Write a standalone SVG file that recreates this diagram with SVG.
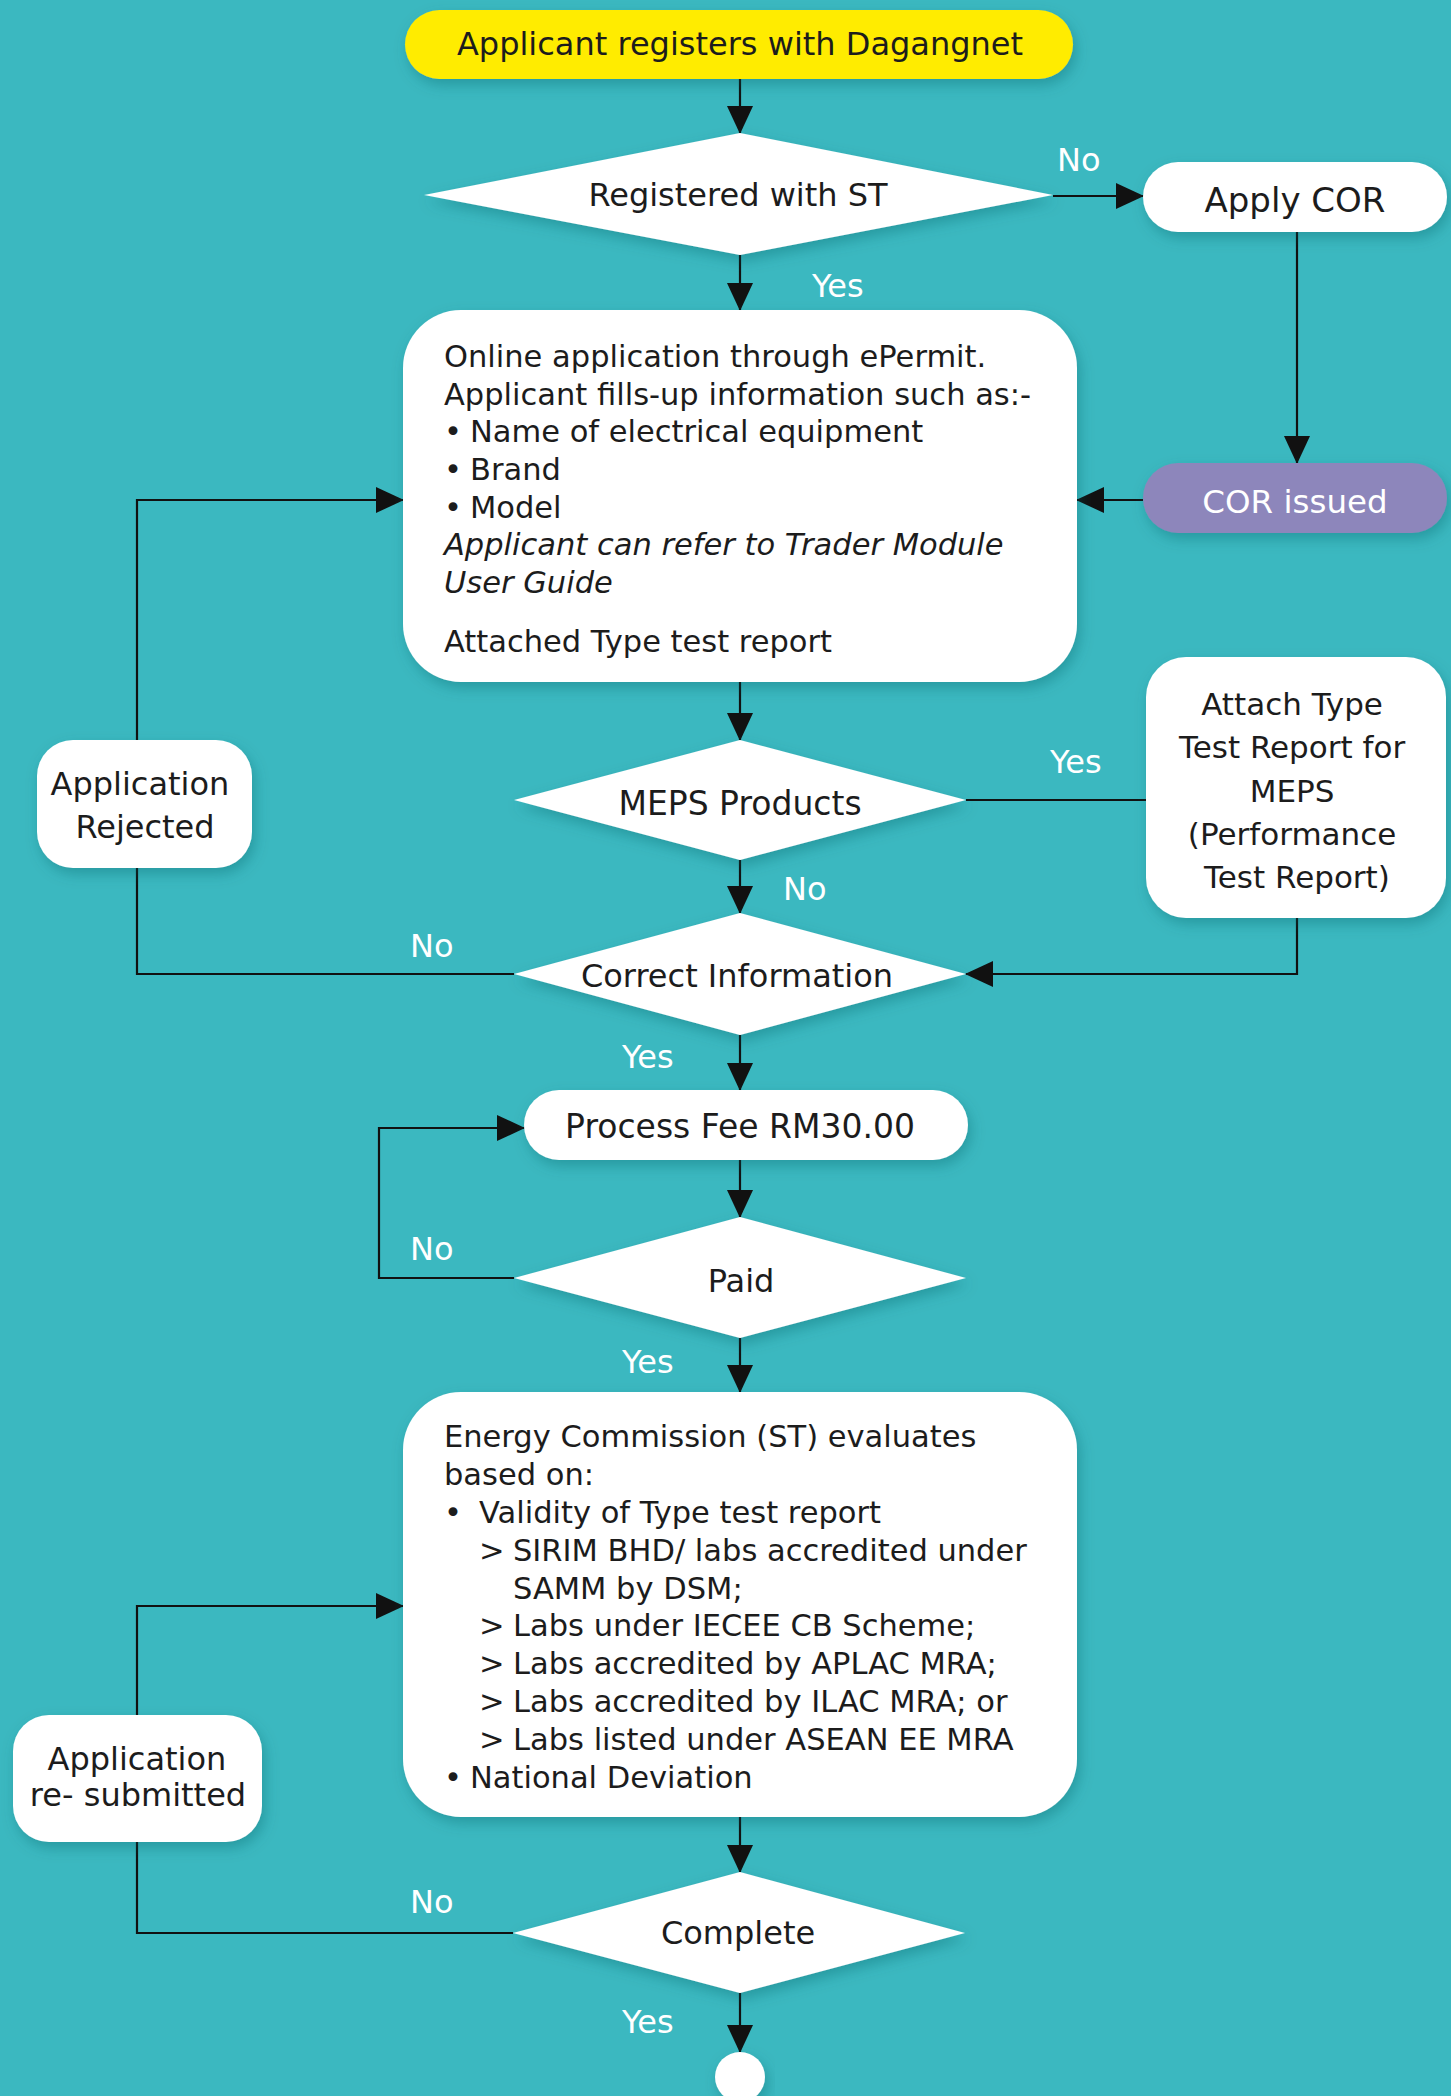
<svg xmlns="http://www.w3.org/2000/svg" width="1451" height="2096" viewBox="0 0 1451 2096">
<defs>
<filter id="sh" x="-20%" y="-20%" width="140%" height="150%">
<feDropShadow dx="3" dy="6" stdDeviation="7" flood-color="#0d5d63" flood-opacity="0.35"/>
</filter>
<marker id="ah" viewBox="0 0 28 26" refX="27" refY="13" markerWidth="28" markerHeight="26" markerUnits="userSpaceOnUse" orient="auto">
<path d="M0,0 L28,13 L0,26 z" fill="#111"/>
</marker>
<style>
.n{fill:#fff;filter:url(#sh)}
.t{font-family:"DejaVu Sans","Liberation Sans",sans-serif;fill:#1c1c1c}
.c{text-anchor:middle}
.lb{font-family:"DejaVu Sans","Liberation Sans",sans-serif;fill:#fff;font-size:32px}
.ln{fill:none;stroke:#111;stroke-width:2.2}
.ar{marker-end:url(#ah)}
</style>
</defs>
<rect width="1451" height="2096" fill="#3bb8c0"/>

<g id="connectors">
<path class="ln ar" d="M740,79 V133"/>
<path class="ln ar" d="M1053,196 H1143"/>
<path class="ln ar" d="M740,255 V310"/>
<path class="ln ar" d="M1297,232 V463"/>
<path class="ln ar" d="M1143,500 H1077"/>
<path class="ln ar" d="M740,682 V740"/>
<path class="ln" d="M966,800 H1146"/>
<path class="ln ar" d="M1297,918 V974 H966"/>
<path class="ln ar" d="M740,860 V913"/>
<path class="ln ar" d="M514,974 H137 V500 H403"/>
<path class="ln ar" d="M740,1035 V1090"/>
<path class="ln ar" d="M740,1160 V1217"/>
<path class="ln ar" d="M514,1278 H379 V1128 H524"/>
<path class="ln ar" d="M740,1338 V1392"/>
<path class="ln ar" d="M740,1817 V1872"/>
<path class="ln ar" d="M513,1933 H137 V1606 H403"/>
<path class="ln ar" d="M740,1993 V2052"/>
</g>

<g id="labels">
<text class="lb" x="1057" y="171">No</text>
<text class="lb" x="812" y="297">Yes</text>
<text class="lb" x="1050" y="773">Yes</text>
<text class="lb" x="783" y="900">No</text>
<text class="lb" x="410" y="957">No</text>
<text class="lb" x="622" y="1068">Yes</text>
<text class="lb" x="410" y="1260">No</text>
<text class="lb" x="622" y="1373">Yes</text>
<text class="lb" x="410" y="1913">No</text>
<text class="lb" x="622" y="2033">Yes</text>
</g>

<g id="start">
<rect x="405" y="10" width="668" height="69" rx="34.5" fill="#ffec00" filter="url(#sh)"/>
<text class="t c" x="740" y="55" font-size="32">Applicant registers with Dagangnet</text>
</g>

<g id="registered">
<polygon class="n" points="740,133 1053,195 740,255 424,195"/>
<text class="t c" x="738" y="206" font-size="32">Registered with ST</text>
</g>

<g id="apply-cor">
<rect class="n" x="1143" y="162" width="304" height="70" rx="35"/>
<text class="t c" x="1295" y="212" font-size="34">Apply COR</text>
</g>

<g id="cor-issued">
<rect x="1143" y="463" width="304" height="70" rx="35" fill="#8d86bb" filter="url(#sh)"/>
<text class="c" x="1295" y="513" font-size="32.5" font-family="DejaVu Sans, Liberation Sans, sans-serif" fill="#fff">COR issued</text>
</g>

<g id="online-application">
<rect class="n" x="403" y="310" width="674" height="372" rx="58"/>
<text class="t" font-size="30.5">
<tspan x="444" y="367">Online application through ePermit.</tspan>
<tspan x="444" y="405">Applicant fills-up information such as:-</tspan>
<tspan x="444" y="442">•</tspan><tspan x="470" y="442">Name of electrical equipment</tspan>
<tspan x="444" y="480">•</tspan><tspan x="470" y="480">Brand</tspan>
<tspan x="444" y="518">•</tspan><tspan x="470" y="518">Model</tspan>
<tspan x="444" y="555" font-style="italic">Applicant can refer to Trader Module</tspan>
<tspan x="444" y="593" font-style="italic">User Guide</tspan>
<tspan x="444" y="652">Attached Type test report</tspan>
</text>
</g>

<g id="meps">
<polygon class="n" points="740,740 966,800 740,860 514,800"/>
<text class="t c" x="740" y="815" font-size="33">MEPS Products</text>
</g>

<g id="attach">
<rect class="n" x="1146" y="657" width="300" height="261" rx="40"/>
<text class="t c" font-size="31">
<tspan x="1297" y="715">Attach Type</tspan>
<tspan x="1297" y="758">Test Report for</tspan>
<tspan x="1297" y="802">MEPS</tspan>
<tspan x="1297" y="845">(Performance</tspan>
<tspan x="1297" y="888">Test Report)</tspan>
</text>
</g>

<g id="rejected">
<rect class="n" x="37" y="740" width="215" height="128" rx="36"/>
<text class="t c" font-size="32">
<tspan x="145" y="795">Application</tspan>
<tspan x="145" y="838">Rejected</tspan>
</text>
</g>

<g id="correct">
<polygon class="n" points="740,913 966,974 740,1035 514,974"/>
<text class="t c" x="737" y="987" font-size="32">Correct Information</text>
</g>

<g id="fee">
<rect class="n" x="524" y="1090" width="444" height="70" rx="35"/>
<text class="t c" x="740" y="1138" font-size="33">Process Fee RM30.00</text>
</g>

<g id="paid">
<polygon class="n" points="740,1217 966,1278 740,1338 514,1278"/>
<text class="t c" x="741" y="1292" font-size="32">Paid</text>
</g>

<g id="evaluate">
<rect class="n" x="403" y="1392" width="674" height="425" rx="58"/>
<text class="t" font-size="30.5">
<tspan x="444" y="1447">Energy Commission (ST) evaluates</tspan>
<tspan x="444" y="1485">based on:</tspan>
<tspan x="444" y="1523">•</tspan><tspan x="479" y="1523">Validity of Type test report</tspan>
<tspan x="479" y="1561">&gt;</tspan><tspan x="513" y="1561">SIRIM BHD/ labs accredited under</tspan>
<tspan x="513" y="1599">SAMM by DSM;</tspan>
<tspan x="479" y="1636">&gt;</tspan><tspan x="513" y="1636">Labs under IECEE CB Scheme;</tspan>
<tspan x="479" y="1674">&gt;</tspan><tspan x="513" y="1674">Labs accredited by APLAC MRA;</tspan>
<tspan x="479" y="1712">&gt;</tspan><tspan x="513" y="1712">Labs accredited by ILAC MRA; or</tspan>
<tspan x="479" y="1750">&gt;</tspan><tspan x="513" y="1750">Labs listed under ASEAN EE MRA</tspan>
<tspan x="444" y="1788">•</tspan><tspan x="470" y="1788">National Deviation</tspan>
</text>
</g>

<g id="resubmitted">
<rect class="n" x="13" y="1715" width="249" height="127" rx="36"/>
<text class="t c" font-size="32">
<tspan x="142" y="1770">Application</tspan>
<tspan x="138" y="1806">re- submitted</tspan>
</text>
</g>

<g id="complete">
<polygon class="n" points="740,1872 965,1933 740,1993 513,1933"/>
<text class="t c" x="738" y="1944" font-size="32">Complete</text>
</g>

<g id="end">
<circle class="n" cx="740" cy="2077" r="25"/>
</g>
</svg>
